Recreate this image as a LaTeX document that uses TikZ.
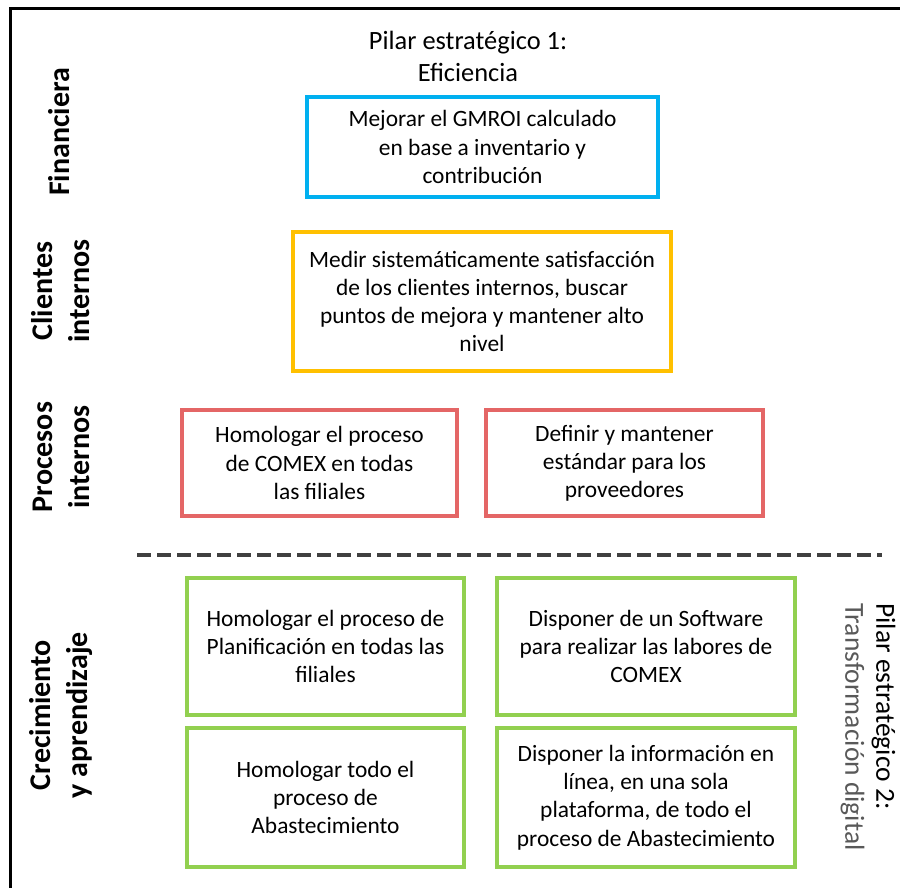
\documentclass[tikz,border=0pt]{standalone}
\usepackage{fontspec}
\setmainfont{Carlito}
\usepackage{tikz}
\usetikzlibrary{positioning}

\definecolor{finblue}{HTML}{00B0F0}
\definecolor{cliorange}{HTML}{FFC000}
\definecolor{prored}{HTML}{E46666}
\definecolor{aprgreen}{HTML}{92D050}
\definecolor{sepgray}{HTML}{404040}

\begin{document}
\begin{tikzpicture}[x=1pt,y=-1pt,
	objbox/.style={draw,line width=4pt,inner sep=0pt,align=center,
		font=\fontsize{23.4}{28.2}\selectfont},
	persp/.style={rotate=90,inner sep=0pt,align=center,
		font=\fontsize{30}{37}\selectfont\bfseries},
	pilar/.style={inner sep=0pt,align=center,
		font=\fontsize{26.4}{32}\selectfont}]
		\useasboundingbox (0,0) rectangle (900,888);
		\draw[line width=3pt] (900,9) -- (10,9) -- (10,888);

		\node[pilar] (P1) at (468,56) {Pilar estratégico 1:\\Eficiencia};
		\node[pilar,align=left,anchor=west,rotate=-90,
		font=\fontsize{27.5}{31}\selectfont] (P2) at (868,603)
		{Pilar estratégico 2:\\\textcolor{black!65}{Transformación digital}};

		\node[persp] (Fin) at (59,132) {Financiera};
		\node[persp] (Cli) at (61,291) {Clientes\\internos};
		\node[persp] (Pro) at (61,457) {Procesos\\internos};
		\node[persp] (Cre) at (61,715) {Crecimiento\\y aprendizaje};

		\node[objbox,draw=finblue,minimum width=351pt,minimum height=100pt]
		(F1) at (482.5,147) {Mejorar el GMROI calculado\\en base a inventario y\\contribución};

		\node[objbox,draw=cliorange,minimum width=378pt,minimum height=139pt]
		(C1) at (482,301.5) {Medir sistemáticamente satisfacción\\de los clientes internos, buscar\\puntos de mejora y mantener alto\\nivel};

		\node[objbox,draw=prored,minimum width=275pt,minimum height=106pt]
		(PR1) at (319.5,463) {Homologar el proceso\\de COMEX en todas\\las filiales};
		\node[objbox,draw=prored,minimum width=277pt,minimum height=106pt]
		(PR2) at (624.5,463) {Definir y mantener\\estándar para los\\proveedores};

		\coordinate (SepA) at (137,555);
		\coordinate (SepB) at (882,555);
		\draw[sepgray,line width=4pt,dash pattern=on 14pt off 6pt] (SepA) -- (SepB);

		\node[objbox,draw=aprgreen,minimum width=277pt,minimum height=137pt]
		(A1) at (325.5,646.5) {Homologar el proceso de\\Planificación en todas las\\filiales};
		\node[objbox,draw=aprgreen,minimum width=298pt,minimum height=137pt]
		(A2) at (646,646.5) {Disponer de un Software\\para realizar las labores de\\COMEX};
		\node[objbox,draw=aprgreen,minimum width=277pt,minimum height=139pt]
		(A3) at (325.5,797.5) {Homologar todo el\\proceso de\\Abastecimiento};
		\node[objbox,draw=aprgreen,minimum width=298pt,minimum height=139pt]
		(A4) at (646,797.5) {Disponer la información en\\línea, en una sola\\plataforma, de todo el\\proceso de Abastecimiento};

		\end{tikzpicture}
\end{document}
